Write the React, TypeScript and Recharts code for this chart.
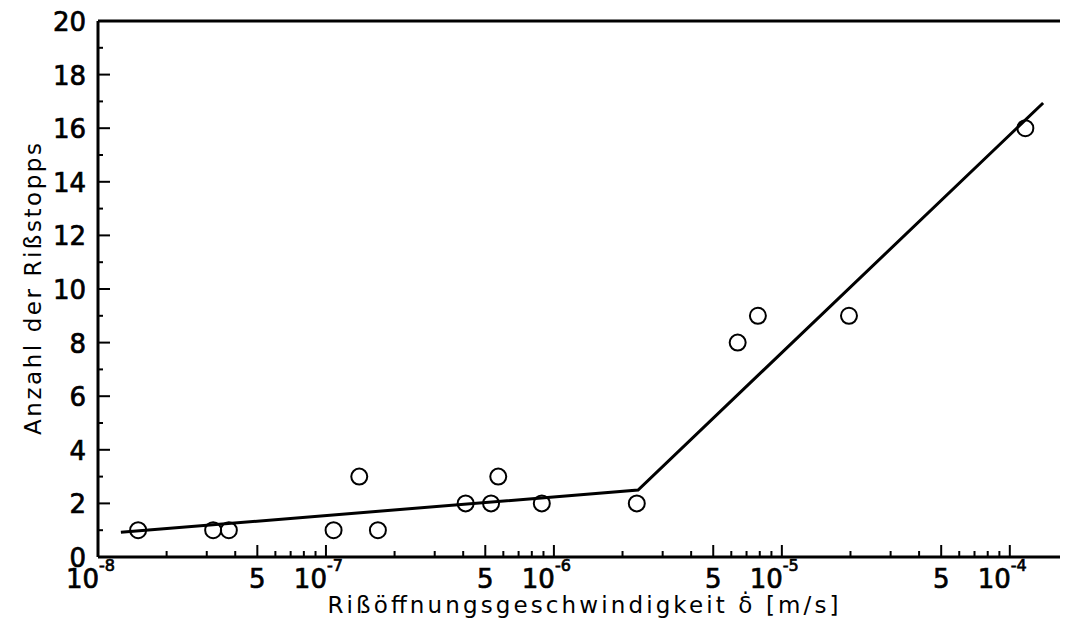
import { ReferenceLine, Scatter, ScatterChart, XAxis, YAxis } from 'recharts'

// crack opening rate [m/s] and number of crack arrests
const openingRates = [
  1.5e-8, 3.2e-8, 3.75e-8, 1.08e-7, 1.4e-7, 1.69e-7, 4.1e-7, 5.3e-7, 5.7e-7, 8.85e-7, 2.31e-6,
  6.4e-6, 7.85e-6, 1.97e-5, 1.17e-4,
]
const arrestCounts = [1, 1, 1, 1, 3, 1, 2, 2, 3, 2, 2, 8, 9, 9, 16]

// two-segment fit line
const fitRates = [1.26e-8, 2.34e-6, 1.4e-4]
const fitCounts = [0.92, 2.5, 16.94]

const X_DOMAIN: [number, number] = [1e-8, 1.8e-4]
const X_DECADES = [-8, -7, -6, -5, -4]
const X_MANTISSAS = [1, 2, 3, 4, 5, 6, 7, 8, 9]
// labelled x ticks: [mantissa, label]
const X_LABELS: [number, string][] = [
  [1, '10'],
  [5, '5'],
]
const Y_TICKS = [0, 1, 2, 3, 4, 5, 6, 7, 8, 9, 10, 11, 12, 13, 14, 15, 16, 17, 18, 19, 20]

const FONT = '"DejaVu Sans", sans-serif'

const points = openingRates.map((rate, i) => ({ rate, count: arrestCounts[i] }))
const fitLine = fitRates.map((rate, i) => ({ rate, count: fitCounts[i] }))

const xTicks: number[] = []
X_DECADES.forEach((d) => {
  X_MANTISSAS.forEach((m) => {
    const v = Number((m * Math.pow(10, d)).toPrecision(3))
    if (v >= X_DOMAIN[0] && v <= X_DOMAIN[1]) xTicks.push(v)
  })
})

const splitTick = (value: number) => {
  const exp = Math.floor(Math.log10(value) + 1e-9)
  const mant = Math.round(value / Math.pow(10, exp))
  return { exp, mant }
}

const numStyle = { stroke: '#000', strokeWidth: 0.7 }

const XTick = (props: any) => {
  const { x, y, payload } = props
  const { exp, mant } = splitTick(payload.value)
  const label = X_LABELS.find((l) => l[0] === mant)
  const big = mant === 1 || mant === 5
  return (
    <g>
      <line x1={x} x2={x} y1={y} y2={y - (big ? 12 : 6)} stroke="#000" strokeWidth={2} />
      {label && mant === 1 && (
        <>
          <text x={x + 1} y={y + 31} textAnchor="end" fontSize={26} fontFamily={FONT} fill="#000" style={numStyle}>
            {label[1]}
          </text>
          <text x={x + 1} y={y + 14} textAnchor="start" fontSize={16} fontFamily={FONT} fill="#000" style={numStyle}>
            {String(exp)}
          </text>
        </>
      )}
      {label && mant === 5 && (
        <text x={x} y={y + 31} textAnchor="middle" fontSize={26} fontFamily={FONT} fill="#000" style={numStyle}>
          {label[1]}
        </text>
      )}
    </g>
  )
}

const YTick = (props: any) => {
  const { x, y, payload } = props
  const major = payload.value % 2 === 0
  return (
    <g>
      <line x1={x} x2={x + (major ? 12 : 5)} y1={y} y2={y} stroke="#000" strokeWidth={2} />
      {major && (
        <text x={x - 12} y={y + 10} textAnchor="end" fontSize={26} fontFamily={FONT} fill="#000" style={numStyle}>
          {payload.value}
        </text>
      )}
    </g>
  )
}

const XTitle = (props: any) => {
  const { viewBox } = props
  const cx = viewBox.x + viewBox.width / 2
  return (
    <text
      x={cx}
      y={viewBox.y + 56}
      textAnchor="middle"
      fontSize={23}
      fontFamily={FONT}
      fill="#000"
      textLength={511}
      lengthAdjust="spacing"
    >
      Rißöffnungsgeschwindigkeit δ̇ [m/s]
    </text>
  )
}

const YTitle = (props: any) => {
  const { viewBox } = props
  const cy = viewBox.y + viewBox.height / 2
  const bx = 33
  return (
    <text
      x={bx}
      y={cy}
      transform={`rotate(-90 ${bx} ${cy})`}
      textAnchor="middle"
      fontSize={23}
      fontFamily={FONT}
      fill="#000"
      textLength={292}
      lengthAdjust="spacing"
    >
      Anzahl der Rißstopps
    </text>
  )
}

function App() {
  return (
    <div style={{ width: 1060, height: 615, background: '#fff' }}>
      <ScatterChart width={1060} height={615} margin={{ top: 13, right: 0, bottom: 0, left: 0 }}>
        <XAxis
          type="number"
          dataKey="rate"
          scale="log"
          domain={X_DOMAIN}
          allowDataOverflow
          ticks={xTicks}
          interval={0}
          tickSize={0}
          tickMargin={0}
          tick={(p: any) => <XTick {...p} />}
          axisLine={{ stroke: '#000', strokeWidth: 3 }}
          height={66}
          label={XTitle}
        />
        <YAxis
          type="number"
          dataKey="count"
          domain={[0, 20]}
          ticks={Y_TICKS}
          interval={0}
          tickSize={0}
          tickMargin={0}
          tick={(p: any) => <YTick {...p} />}
          axisLine={{ stroke: '#000', strokeWidth: 3 }}
          width={90}
          label={YTitle}
        />
        <ReferenceLine y={20} stroke="#000" strokeWidth={3} />
        <Scatter
          data={fitLine}
          line={{ stroke: '#000', strokeWidth: 3 }}
          lineType="joint"
          shape={() => <g />}
          isAnimationActive={false}
        />
        <Scatter
          data={points}
          shape={(p: any) => (
            <circle cx={p.cx} cy={p.cy} r={8} fill="none" stroke="#000" strokeWidth={2} />
          )}
          isAnimationActive={false}
        />
      </ScatterChart>
    </div>
  )
}

export default App
